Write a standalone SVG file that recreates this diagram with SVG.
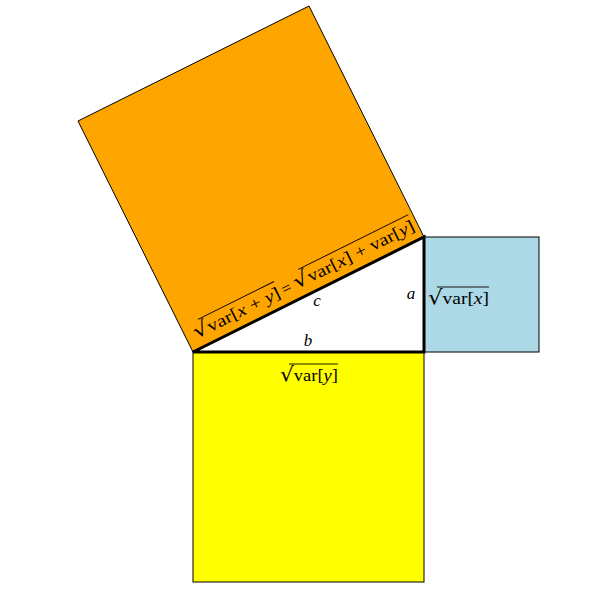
<svg xmlns="http://www.w3.org/2000/svg" width="614" height="595" viewBox="0 0 614 595">
<style>
.sq{stroke:#000;stroke-width:1}
.t{font-family:"Liberation Serif","Times New Roman",serif;font-size:17px;fill:#000}
.i{font-style:italic}
.rad{font-family:"DejaVu Serif",serif;font-size:20px}
.ol{stroke:#000;stroke-width:0.9}
</style>
<rect width="614" height="595" fill="#fff"/>
<g id="square-c"><polygon class="sq" points="193,352 424,237 309,6 78,121" fill="#FFA500"/></g>
<g id="square-a"><rect class="sq" x="424" y="237" width="115" height="115" fill="#ADD8E6"/></g>
<g id="square-b"><rect class="sq" x="193" y="352" width="231" height="230" fill="#FFFF00"/></g>
<g id="triangle"><polygon points="193,352 424,352 424,237" fill="#fff" stroke="#000" stroke-width="3" stroke-linejoin="miter"/></g>
<g id="labels">
<text class="t i" x="411" y="299" text-anchor="middle">a</text>
<text class="t i" x="308" y="346" text-anchor="middle">b</text>
<text class="t i" x="317" y="306" text-anchor="middle">c</text>
<g id="label-a">
<line class="ol" x1="437" y1="287" x2="489" y2="287"/>
<text class="t" x="428" y="304" textLength="61" lengthAdjust="spacingAndGlyphs"><tspan class="rad">√</tspan>var[<tspan class="i">x</tspan>]</text>
</g>
<g id="label-b">
<line class="ol" x1="289" y1="364" x2="338" y2="364"/>
<text class="t" x="280" y="381" textLength="58" lengthAdjust="spacingAndGlyphs"><tspan class="rad">√</tspan>var[<tspan class="i">y</tspan>]</text>
</g>
<g id="label-c" transform="translate(193,352) rotate(-26.47)">
<line class="ol" x1="19" y1="-27" x2="104" y2="-27"/>
<text class="t" x="9" y="-10" textLength="95" lengthAdjust="spacingAndGlyphs"><tspan class="rad">√</tspan>var[<tspan class="i">x</tspan> + <tspan class="i">y</tspan>]</text>
<text class="t" x="112" y="-10" text-anchor="middle">=</text>
<line class="ol" x1="131" y1="-27" x2="254" y2="-27"/>
<text class="t" x="121" y="-10" textLength="133" lengthAdjust="spacingAndGlyphs"><tspan class="rad">√</tspan>var[<tspan class="i">x</tspan>] + var[<tspan class="i">y</tspan>]</text>
</g>
</g>
</svg>
